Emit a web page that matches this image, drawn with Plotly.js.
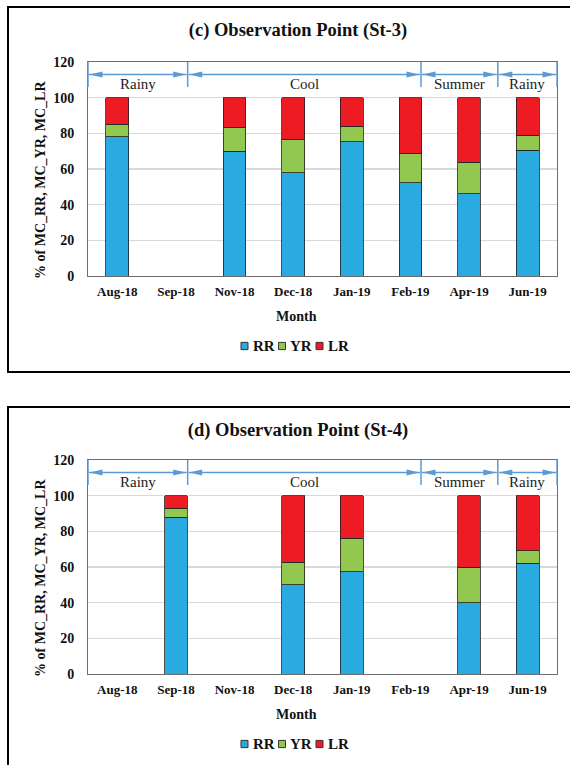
<!DOCTYPE html>
<html><head><meta charset="utf-8">
<script src="https://cdn.plot.ly/plotly-3.0.1.min.js"></script>
<style>
html,body{margin:0;padding:0;width:570px;height:765px;overflow:hidden;background:#fff;}
.box{position:absolute;left:7px;width:578px;height:363px;border:2px solid #000;}
</style></head><body>
<div id="c" class="box" style="top:6px"></div>
<div id="d" class="box" style="top:406px"></div>
<script>
// ---- data ----
const months = ['Aug-18','Sep-18','Nov-18','Dec-18','Jan-19','Feb-19','Apr-19','Jun-19'];
const seriesNames = ['RR','YR','LR'];
const seriesColors = ['#29ABE2','#92C850','#ED1C24'];

const rrC = [78, null, 70, 58, 75.3, 52.2, 46, 70.5];
const yrC = [7, null, 13, 18.5, 8.8, 16.3, 17.8, 8.5];
const lrC = [15, null, 17, 23.5, 15.9, 31.5, 36.2, 21];

const rrD = [null, 88, null, 50, 57.2, null, 40, 62];
const yrD = [null, 5, null, 12.8, 19, null, 20, 7.2];
const lrD = [null, 7, null, 37.2, 23.8, null, 40, 30.8];

const seasonNames = ['Rainy','Cool','Summer','Rainy'];
const seasonBounds = [-0.5, 1.2, 5.18, 6.49, 7.5];

const serif = 'Liberation Serif, Times New Roman, serif';
const blue = '#5B9BD5';

function panel(id, title, rr, yr, lr, t) {
  const W = 578, H = 363, L = 79, PW = 469, PH = 214;
  const B = H - t - PH, R = W - L - PW;
  const unit = PH / 120;              // px per data unit
  const px = p => p / PW;             // pixel offset -> paper x
  const catX = c => (c + 0.5) / months.length;  // category position -> paper x
  const vals = [rr, yr, lr];

  const traces = vals.map((v, i) => ({
    type: 'bar', x: months, y: v, name: seriesNames[i],
    marker: {color: seriesColors[i], line: {color: '#222', width: 0.8}},
    showlegend: false
  }));

  const shapes = [], annotations = [];
  const yArrow = 113, hh = 3 / unit;
  seasonBounds.forEach(b => {
    shapes.push({type: 'line', xref: 'paper', yref: 'y', x0: catX(b), x1: catX(b), y0: 106, y1: 120,
      line: {color: blue, width: 1.5}});
  });
  seasonNames.forEach((s, i) => {
    const xl = catX(seasonBounds[i]), xr = catX(seasonBounds[i + 1]);
    shapes.push({type: 'line', xref: 'paper', yref: 'y', x0: xl + px(1), x1: xr - px(1), y0: yArrow, y1: yArrow,
      line: {color: blue, width: 1.5}});
    const a = xl + px(1.5), a2 = xl + px(14.5);
    shapes.push({type: 'path', xref: 'paper', yref: 'y',
      path: `M${a},${yArrow} L${a2},${yArrow + hh} L${a2},${yArrow - hh} Z`,
      fillcolor: blue, line: {width: 0}});
    const c = xr - px(1.5), c2 = xr - px(14.5);
    shapes.push({type: 'path', xref: 'paper', yref: 'y',
      path: `M${c},${yArrow} L${c2},${yArrow + hh} L${c2},${yArrow - hh} Z`,
      fillcolor: blue, line: {width: 0}});
    annotations.push({text: s, xref: 'paper', yref: 'y', x: (xl + xr) / 2, y: 107.7,
      showarrow: false, font: {family: serif, size: 15, color: '#222'}, xanchor: 'center', yanchor: 'middle'});
  });

  // axis titles
  annotations.push({text: 'Month', xref: 'paper', yref: 'paper', x: px(287 - L), y: 0, yshift: -40,
    showarrow: false, xanchor: 'center', yanchor: 'middle', font: {family: serif, size: 14, weight: 'bold', color: '#111'}});
  annotations.push({text: '% of MC_RR, MC_YR, MC_LR', xref: 'paper', yref: 'paper', x: 0, xshift: -48, y: 0.5, yshift: -11,
    textangle: -90, showarrow: false, xanchor: 'center', yanchor: 'middle', font: {family: serif, size: 14, weight: 'bold', color: '#111'}});

  // legend
  const legY = -70 / PH, sq = 3.6;
  seriesNames.forEach((n, i) => {
    const sx = 232 + i * 37.5;
    shapes.push({type: 'rect', xref: 'paper', yref: 'paper', x0: px(sx - L), x1: px(sx + 7 - L),
      y0: legY - sq / PH, y1: legY + sq / PH, fillcolor: seriesColors[i], line: {color: '#333', width: 1}});
    annotations.push({text: n, xref: 'paper', yref: 'paper', x: px(sx + 9.5 - L), y: legY,
      showarrow: false, xanchor: 'left', yanchor: 'middle', font: {family: serif, size: 15, weight: 'bold', color: '#111'}});
  });

  const layout = {
    width: W, height: H,
    margin: {l: L, r: R, t: t, b: B, pad: 0},
    paper_bgcolor: '#fff', plot_bgcolor: '#fff',
    barmode: 'stack', bargap: 0.61,
    title: {text: title, x: 0.5, xref: 'container', xanchor: 'center', y: 1 - 22 / H, yref: 'container', yanchor: 'middle',
      font: {family: serif, size: 18.5, weight: 'bold', color: '#111'}},
    xaxis: {type: 'category', categoryorder: 'array', categoryarray: months, range: [-0.5, 7.5],
      showline: true, mirror: true, linecolor: '#6d6d6d', linewidth: 1, showgrid: false,
      ticks: '', ticklabelstandoff: 3, tickfont: {family: serif, size: 13, weight: 'bold', color: '#111'}},
    yaxis: {range: [0, 120], tickvals: [0, 20, 40, 60, 80, 100, 120], showline: true, mirror: true,
      linecolor: '#6d6d6d', linewidth: 1, gridcolor: '#d9d9d9', gridwidth: 1.5, zeroline: false,
      ticks: '', ticklabelstandoff: 10, tickfont: {family: serif, size: 14, weight: 'bold', color: '#111'}},
    shapes: shapes, annotations: annotations, showlegend: false
  };
  Plotly.newPlot(id, traces, layout, {displayModeBar: false, staticPlot: true});
}

panel('c', '(c) Observation Point (St-3)', rrC, yrC, lrC, 54);
panel('d', '(d) Observation Point (St-4)', rrD, yrD, lrD, 52);
</script>
</body></html>
